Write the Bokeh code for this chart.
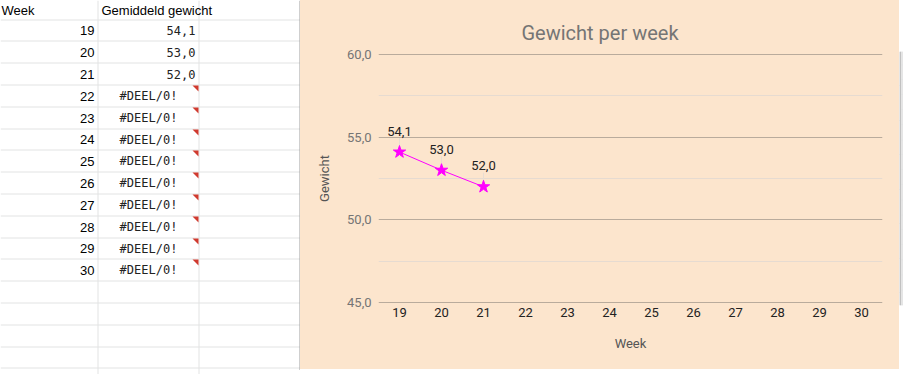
from bokeh.plotting import figure
from bokeh.layouts import row, column
from bokeh.models import Range1d, FixedTicker
from bokeh.core.properties import value
from bokeh.embed import file_html
from bokeh.resources import INLINE

# ---------------- data ----------------
weeks = [19, 20, 21, 22, 23, 24, 25, 26, 27, 28, 29, 30]
avg_weight = [54.1, 53.0, 52.0]          # weeks 19-21; later weeks give #DEEL/0!
error_text = "#DEEL/0!"
header = ["Week", "Gemiddeld gewicht"]
title_text = "Gewicht per week"
x_title = "Week"
y_title = "Gewicht"
y_ticks = [45, 50, 55, 60]
y_tick_labels = ["45,0", "50,0", "55,0", "60,0"]
y_minor_ticks = [47.5, 52.5, 57.5]


def nl(v):
    return f"{v:.1f}".replace(".", ",")


# ---------------- styles ----------------
BG = "#fce5cd"
SHEET_LINE = "#e2e3e3"
BORDER = "#9e9e9e"
MAJOR_GRID = "#b9ab9c"
MINOR_GRID = "#e6dbd1"
MAGENTA = "#ff00ff"
HEADER_H = 19
ROW_H = 21.8
COL_EDGES = [97.5, 198.5]
CHART_LEFT = 299.5
CHART_BOTTOM = 369


def row_line(k):
    return int(HEADER_H + k * ROW_H) + 0.5


def row_center(k):
    return (row_line(k) + row_line(k + 1)) / 2


n_rows = 16
row_lines = [row_line(k) for k in range(n_rows + 1)]

# ---------------- spreadsheet (left) ----------------
sheet = figure(width=300, height=374, x_range=Range1d(0, 300), y_range=Range1d(374, 0),
               toolbar_location=None, output_backend="svg", min_border=0,
               x_axis_location=None, y_axis_location=None, outline_line_color=None,
               background_fill_color="white", border_fill_color="white")
sheet.xgrid.visible = False
sheet.ygrid.visible = False

sheet.segment(x0=[0] * len(row_lines), x1=[CHART_LEFT] * len(row_lines),
              y0=row_lines, y1=row_lines, line_color=SHEET_LINE, line_width=1)
sheet.segment(x0=COL_EDGES, x1=COL_EDGES, y0=[0, 0], y1=[374, 374],
              line_color=SHEET_LINE, line_width=1)

sheet.text(x=[1], y=[HEADER_H / 2 + 0.5], text=[header[0]], text_font=value("Liberation Sans"),
           text_font_size="13px", text_color="#000000", text_align="left", text_baseline="middle")
sheet.text(x=[101], y=[HEADER_H / 2 + 0.5], text=[header[1]], text_font=value("Liberation Sans"),
           text_font_size="13px", text_color="#000000", text_align="left", text_baseline="middle")

week_y = [row_center(i) for i in range(len(weeks))]
sheet.text(x=[94] * len(weeks), y=week_y, text=[str(w) for w in weeks],
           text_font=value("Liberation Sans"), text_font_size="13px", text_color="#000000",
           text_align="right", text_baseline="middle")

n_val = len(avg_weight)
sheet.text(x=[195] * n_val, y=week_y[:n_val], text=[nl(v) for v in avg_weight],
           text_font=value("DejaVu Sans Mono"), text_font_size="12px", text_color="#222222",
           text_align="right", text_baseline="middle")
err_y = week_y[n_val:]
sheet.text(x=[148] * len(err_y), y=err_y, text=[error_text] * len(err_y),
           text_font=value("DejaVu Sans Mono"), text_font_size="12px", text_color="#222222",
           text_align="center", text_baseline="middle")
tri_xs = [[192, 198, 198] for _ in err_y]
tri_ys = [[row_line(i) + 0.5, row_line(i) + 0.5, row_line(i) + 6.5] for i in range(n_val, len(weeks))]
sheet.patches(xs=tri_xs, ys=tri_ys, fill_color="#d03a2f", line_color=None)

sheet.segment(x0=[CHART_LEFT], x1=[CHART_LEFT], y0=[0], y1=[CHART_BOTTOM + 0.5],
              line_color=BORDER, line_width=1)

# ---------------- chart ----------------
px_per_unit = 248 / 15.0
pad = 3 / px_per_unit
p = figure(width=599, height=369, x_range=Range1d(18.5, 30.5),
           y_range=Range1d(y_ticks[0] - pad, y_ticks[-1] + pad),
           toolbar_location=None, output_backend="svg",
           min_border_left=78, min_border_right=17, min_border_top=51, min_border_bottom=64,
           background_fill_color=BG, border_fill_color=BG, outline_line_color=None,
           title=title_text)
p.outline_line_color = None
p.styles = {"background-color": BG}

p.title.text_font = "Roboto"
p.title.text_font_size = "20px"
p.title.text_font_style = "normal"
p.title.text_color = "#757575"
p.title.align = "left"
p.title.offset = 143
p.title.standoff = 14

p.xgrid.visible = False
yticker = FixedTicker(ticks=y_ticks, minor_ticks=y_minor_ticks)
p.yaxis.ticker = yticker
p.ygrid.ticker = yticker
p.ygrid.grid_line_color = MAJOR_GRID
p.ygrid.minor_grid_line_color = MINOR_GRID

p.xaxis.ticker = FixedTicker(ticks=weeks)
for ax in (p.xaxis, p.yaxis):
    ax.axis_line_color = None
    ax.major_tick_line_color = None
    ax.minor_tick_line_color = None
    ax.major_tick_out = 0
    ax.major_tick_in = 0
    ax.minor_tick_out = 0
    ax.minor_tick_in = 0
    ax.major_label_text_font = "Roboto"
    ax.major_label_text_font_size = "13px"
    ax.axis_label_text_font = "Roboto"
    ax.axis_label_text_font_size = "13px"
    ax.axis_label_text_font_style = "normal"
    ax.axis_label_text_color = "#555555"

p.xaxis.major_label_text_color = "#222222"
p.xaxis.major_label_standoff = 2
p.xaxis.axis_label = x_title
p.xaxis.axis_label_standoff = 16

p.yaxis.major_label_text_color = "#757575"
p.yaxis.major_label_standoff = 7
p.yaxis.major_label_overrides = dict(zip(y_ticks, y_tick_labels))
p.yaxis.axis_label = y_title
p.yaxis.axis_label_standoff = 12

xs = weeks[:n_val]
# leader lines from labels to points
lead = 14 / px_per_unit
p.segment(x0=xs, x1=xs, y0=avg_weight, y1=[v + lead for v in avg_weight],
          line_color="#e8ddd3", line_width=1)
p.line(xs, avg_weight, line_color=MAGENTA, line_width=1)
p.scatter(xs, avg_weight, marker="star", size=13, fill_color=MAGENTA, line_color=MAGENTA)
p.text(x=xs, y=avg_weight, text=[nl(v) for v in avg_weight], y_offset=-21,
       text_font=value("Roboto"), text_font_size="13px", text_color="#222222",
       text_align="center", text_baseline="middle")

# ---------------- strips right and below the chart ----------------
rstrip = figure(width=4, height=369, x_range=Range1d(899, 903), y_range=Range1d(369, 0),
                toolbar_location=None, output_backend="svg", min_border=0,
                x_axis_location=None, y_axis_location=None, outline_line_color=None,
                background_fill_color="white", border_fill_color="white")
rstrip.segment(x0=[900] * len(row_lines), x1=[903] * len(row_lines), y0=row_lines, y1=row_lines,
               line_color=SHEET_LINE, line_width=1)
rstrip.segment(x0=[899.5], x1=[899.5], y0=[0], y1=[369], line_color=BORDER, line_width=1)

col_lines = [400.5, 501.5, 602.5, 703.5, 804.5]
bstrip = figure(width=603, height=5, x_range=Range1d(300, 903), y_range=Range1d(374, 369),
                toolbar_location=None, output_backend="svg", min_border=0,
                x_axis_location=None, y_axis_location=None, outline_line_color=None,
                background_fill_color="white", border_fill_color="white")
bstrip.segment(x0=col_lines, x1=col_lines, y0=[370] * len(col_lines), y1=[374] * len(col_lines),
               line_color=SHEET_LINE, line_width=1)
bstrip.segment(x0=[300], x1=[900], y0=[369.5], y1=[369.5], line_color=BORDER, line_width=1)

layout = row(sheet, column(row(p, rstrip), bstrip))

open("out.html", "w").write(file_html(layout, INLINE))
